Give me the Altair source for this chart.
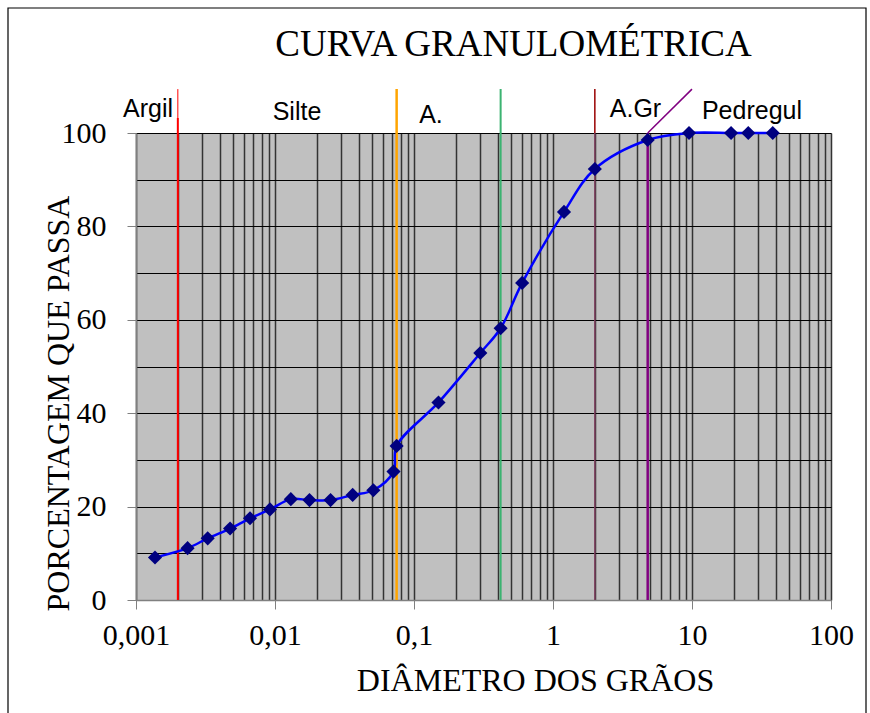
import altair as alt
import pandas as pd

# ---- data ----
diameter = [0.00137, 0.00235, 0.00328, 0.00475, 0.00661, 0.0092, 0.0130, 0.0177,
            0.0251, 0.0362, 0.0510, 0.0712, 0.075, 0.15, 0.30, 0.42, 0.60, 1.2,
            2.0, 4.8, 9.52, 19.1, 25.4, 38.1]
passing = [9.1, 11.1, 13.2, 15.3, 17.5, 19.4, 21.6, 21.4, 21.4, 22.5, 23.5, 27.5,
           33.0, 42.3, 52.9, 58.2, 67.9, 83.1, 92.3, 98.5, 100, 100, 100, 100]

# soil class boundaries (vertical lines)
bound_x = [0.002, 0.002, 0.075, 0.42, 2.0, 2.0, 4.8]
bound_y = [0, 103.2, 0, 0, 100, 0, 0]
bound_y2 = [103.2, 109.4, 109.4, 109.4, 109.4, 100, 100]
bound_color = ["#FF0000", "#FF0000", "#FFA500", "#3CB371", "#990000", "#804060", "#800080"]
bound_width = [2, 1, 2.5, 2, 1.5, 1.5, 2.5]

# diagonal purple segment
diag_x = [4.8]
diag_x2 = [10.0]
diag_y = [100]
diag_y2 = [109.4]

# class labels
label_text = ["Argil", "Silte", "A.", "A.Gr", "Pedregul"]
label_x = [0.00122, 0.01439, 0.1325, 3.92, 27.0]
label_y = [103.4, 102.8, 102.1, 103.4, 103.1]

x_ticks = [round(m * 10 ** e, 6) for e in range(-3, 2) for m in range(1, 10)] + [100]
y_ticks = list(range(0, 101, 10))

df = pd.DataFrame({"d": diameter, "p": passing})
bounds = pd.DataFrame({"x": bound_x, "y": bound_y, "y2": bound_y2,
                       "c": bound_color, "w": bound_width})
diag = pd.DataFrame({"x": diag_x, "x2": diag_x2, "y": diag_y, "y2": diag_y2})
labels = pd.DataFrame({"t": label_text, "x": label_x, "y": label_y})
frame = pd.DataFrame({"a": [0]})

W, H = 695, 467
PL, PT, PR, PB = 136, 133, 39, 113

decade_test = "abs(log(datum.value)/LN10 - round(log(datum.value)/LN10)) < 0.001"

xscale = alt.Scale(type="log", domain=[0.001, 100], nice=False)
yscale = alt.Scale(domain=[0, 100], nice=False)

xaxis = alt.Axis(
    values=x_ticks, grid=True, gridColor="#333333", gridWidth=1.5,
    labelExpr="(" + decade_test + ") ? replace(format(datum.value, ''), '.', ',') : ''",
    tickOpacity={"condition": {"test": decade_test, "value": 1}, "value": 0},
    tickSize=9, tickColor="#808080", tickWidth=1,
    domainColor="#808080", domainWidth=1.5,
    labelFont="Liberation Serif", labelFontSize=30, labelColor="black",
    labelPadding=11, labelOverlap=False, labelFlush=False, labelBound=False,
    title="DIÂMETRO DOS GRÃOS", titleFont="Liberation Serif", titleFontSize=32,
    titleFontWeight="normal", titleColor="black", titleX=399, titleY=90,
    titleBaseline="alphabetic", titleAlign="center", titleAnchor="middle",
)
yaxis = alt.Axis(
    values=y_ticks, grid=True, gridColor="black", gridWidth=1,
    labelExpr="datum.value % 20 == 0 ? datum.value : ''",
    tickOpacity={"condition": {"test": "datum.value % 20 == 0", "value": 1}, "value": 0},
    tickSize=9, tickColor="#808080", tickWidth=1,
    domainColor="#808080", domainWidth=1.5,
    labelFont="Liberation Serif", labelFontSize=30, labelColor="black",
    labelPadding=21, labelOverlap=False, labelFlush=False, labelBound=False,
    title="PORCENTAGEM QUE PASSA", titleFont="Liberation Serif", titleFontSize=32,
    titleFontWeight="normal", titleColor="black", titleX=-68, titleY=270,
    titleBaseline="alphabetic", titleAlign="center", titleAngle=270,
)

base_frame = alt.Chart(frame).mark_rect(fill=None, stroke="black", strokeWidth=1.2).encode(
    x=alt.value(8 - PL), x2=alt.value(866 - PL),
    y=alt.value(8 - PT), y2=alt.value(713 + 10 - PT),
)

axes_layer = alt.Chart(df).mark_point(opacity=0).encode(
    x=alt.X("d:Q", scale=xscale, axis=xaxis),
    y=alt.Y("p:Q", scale=yscale, axis=yaxis),
)

rules = alt.Chart(bounds).mark_rule(strokeCap="butt").encode(
    x=alt.X("x:Q", scale=xscale),
    y=alt.Y("y:Q", scale=yscale),
    y2="y2:Q",
    color=alt.Color("c:N", scale=None),
    strokeWidth=alt.StrokeWidth("w:Q", scale=None),
)

diag_rule = alt.Chart(diag).mark_rule(color="#800080", strokeWidth=1.5).encode(
    x=alt.X("x:Q", scale=xscale), x2="x2:Q",
    y=alt.Y("y:Q", scale=yscale), y2="y2:Q",
)

texts = alt.Chart(labels).mark_text(
    font="Liberation Sans", fontSize=25, color="black", align="center", baseline="alphabetic"
).encode(
    x=alt.X("x:Q", scale=xscale),
    y=alt.Y("y:Q", scale=yscale),
    text="t:N",
)

curve = alt.Chart(df).mark_line(interpolate="catmull-rom", color="#0000FF", strokeWidth=2.5).encode(
    x=alt.X("d:Q", scale=xscale),
    y=alt.Y("p:Q", scale=yscale),
)

pts = alt.Chart(df).mark_point(shape="diamond", filled=True, size=200, color="#000080", opacity=1).encode(
    x=alt.X("d:Q", scale=xscale),
    y=alt.Y("p:Q", scale=yscale),
)

chart = alt.layer(base_frame, axes_layer, rules, diag_rule, texts, curve, pts).properties(
    width=W, height=H,
    title=alt.TitleParams(
        "CURVA GRANULOMÉTRICA", font="Liberation Serif", fontSize=37,
        fontWeight="normal", color="black", anchor="middle", dx=30,
        baseline="alphabetic", offset=0, dy=86,
    ),
    autosize=alt.AutoSizeParams(type="none"),
    padding={"left": PL, "top": PT, "right": PR, "bottom": PB},
    background="white",
).configure_view(fill="#C0C0C0", stroke="#cccccc")

chart.save("out.html", embed_options={"renderer": "svg", "actions": False})
